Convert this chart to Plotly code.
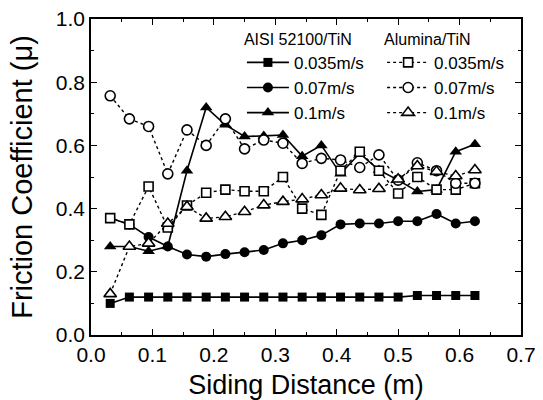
import plotly.graph_objects as go

distance = [0.03125, 0.0625, 0.09375, 0.125, 0.15625, 0.1875, 0.21875, 0.25, 0.28125, 0.3125,
            0.34375, 0.375, 0.40625, 0.4375, 0.46875, 0.5, 0.53125, 0.5625, 0.59375, 0.625]

aisi_0035 = [0.10, 0.12, 0.12, 0.12, 0.12, 0.12, 0.12, 0.12, 0.12, 0.12,
             0.12, 0.12, 0.12, 0.12, 0.12, 0.12, 0.125, 0.125, 0.125, 0.125]
aisi_007 = [0.37, 0.35, 0.31, 0.28, 0.255, 0.248, 0.256, 0.262, 0.269, 0.29,
            0.30, 0.316, 0.35, 0.353, 0.353, 0.36, 0.36, 0.383, 0.353, 0.36]
aisi_01 = [0.28, 0.28, 0.265, 0.28, 0.52, 0.72, 0.665, 0.628, 0.63, 0.633,
           0.566, 0.60, 0.51, 0.575, 0.522, 0.49, 0.454, 0.46, 0.58, 0.604]

alu_0035 = [0.37, 0.35, 0.47, 0.34, 0.41, 0.45, 0.46, 0.455, 0.455, 0.50,
            0.40, 0.38, 0.52, 0.58, 0.52, 0.448, 0.50, 0.46, 0.46, 0.48]
alu_007 = [0.757, 0.684, 0.66, 0.51, 0.649, 0.60, 0.684, 0.589, 0.617, 0.607,
           0.543, 0.559, 0.554, 0.53, 0.57, 0.49, 0.545, 0.52, 0.48, 0.48]
alu_01 = [0.13, 0.28, 0.29, 0.353, 0.406, 0.369, 0.374, 0.39, 0.411, 0.422,
          0.43, 0.443, 0.464, 0.459, 0.463, 0.493, 0.535, 0.517, 0.503, 0.522]

speeds = ["0.035m/s", "0.07m/s", "0.1m/s"]
group_titles = ["AISI 52100/TiN", "Alumina/TiN"]
x_ticks = [0.0, 0.1, 0.2, 0.3, 0.4, 0.5, 0.6, 0.7]
y_ticks = [0.0, 0.2, 0.4, 0.6, 0.8, 1.0]

FONT = "Liberation Sans, Arial, sans-serif"
fig = go.Figure()

aisi = [aisi_0035, aisi_007, aisi_01]
alu = [alu_0035, alu_007, alu_01]
symbols = ["square", "circle", "triangle-up"]
sizes = [9, 10, 11]

for i in range(3):
    fig.add_trace(go.Scatter(
        x=distance, y=aisi[i], mode="lines+markers", name=speeds[i],
        legend="legend",
        line=dict(color="black", width=1.6),
        marker=dict(symbol=symbols[i], size=sizes[i], color="black"),
    ))
for i in range(3):
    fig.add_trace(go.Scatter(
        x=distance, y=alu[i], mode="lines+markers", name=speeds[i],
        legend="legend2",
        line=dict(color="black", width=1.4, dash="dot"),
        marker=dict(symbol=symbols[i], size=sizes[i], color="white",
                    line=dict(width=1.6, color="black")),
    ))

axis_common = dict(
    showline=True, linecolor="black", linewidth=1.5, mirror="allticks",
    ticks="inside", ticklen=6, tickwidth=1.3, tickcolor="black",
    showgrid=False, zeroline=False, automargin=False,
    tickfont=dict(family=FONT, size=21, color="black"),
    tickformat=".1f",
)

fig.update_xaxes(
    range=[0, 0.7], tickvals=x_ticks, **axis_common,
    minor=dict(ticks="inside", ticklen=3, dtick=0.05, tickcolor="black", tickwidth=1.2),
    title=dict(text="Siding Distance (m)", font=dict(family=FONT, size=27, color="black")),
)
fig.update_yaxes(
    range=[0, 1.0], tickvals=y_ticks, **axis_common,
    minor=dict(ticks="inside", ticklen=3, dtick=0.1, tickcolor="black", tickwidth=1.2),
    title=dict(text="Friction Coefficient (μ)", font=dict(family=FONT, size=29, color="black")),
)

legend_common = dict(
    font=dict(family=FONT, size=17, color="black"),
    bgcolor="rgba(0,0,0,0)", borderwidth=0,
    xanchor="left", yanchor="top", tracegroupgap=0,
    itemwidth=42,
)
title_font = dict(family=FONT, size=16, color="black")
fig.update_layout(
    width=543, height=400,
    margin=dict(l=91, r=22, t=19, b=65, autoexpand=False),
    paper_bgcolor="white", plot_bgcolor="white",
    showlegend=True,
    legend=dict(x=0.351, y=0.984, title=dict(text=group_titles[0], font=title_font), **legend_common),
    legend2=dict(x=0.677, y=0.984, title=dict(text=group_titles[1], font=title_font), **legend_common),
)

fig.write_html(
    "out.html",
    config={"displayModeBar": False},
    post_script="document.body.style.margin='0';document.body.style.overflow='hidden';",
)
